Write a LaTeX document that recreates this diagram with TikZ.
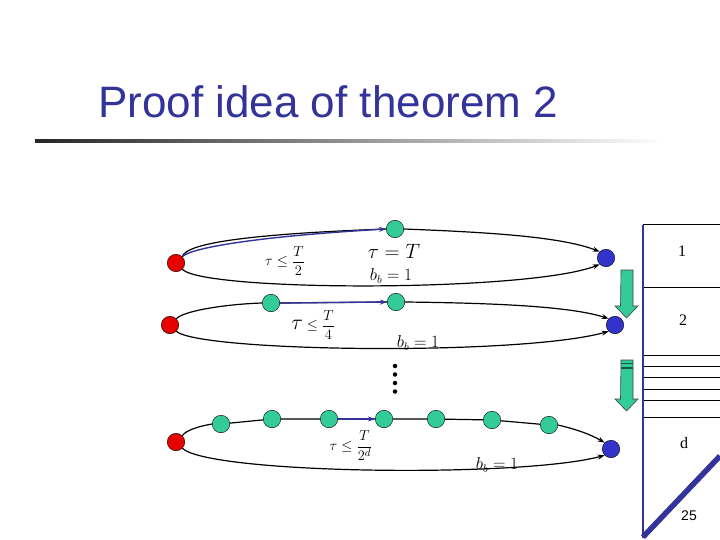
\documentclass[tikz,border=0pt]{standalone}
\usepackage{amsmath}
\usepackage{fontspec}
\setsansfont{Liberation Sans}
\newfontfamily\titlefont{Liberation Sans}
\newfontfamily\timesfont{Liberation Serif}
\usetikzlibrary{arrows.meta}
\definecolor{dotred}{RGB}{230,0,0}
\definecolor{dotgreen}{RGB}{51,204,153}
\definecolor{dotblue}{RGB}{51,51,204}
\definecolor{navy}{RGB}{51,51,153}
\definecolor{darkgreen}{RGB}{20,90,60}
\tikzset{
  dotbase/.style={circle, draw=black, line width=0.4pt, minimum size=17.5pt, inner sep=0pt},
  reddot/.style={dotbase, fill=dotred},
  greendot/.style={dotbase, fill=dotgreen},
  bluedot/.style={dotbase, fill=dotblue},
  ringline/.style={line width=1.2pt, black},
  ringarrow/.style={ringline, -{Stealth[length=7pt,width=5pt]}},
  bluearrow/.style={line width=1.4pt, navy, -{Stealth[length=7pt,width=5pt]}},
  mathlbl/.style={inner sep=0pt, black},
  boxline/.style={black, line width=0.8pt},
  greenarrow/.style={fill=dotgreen, draw=black!75, line width=0.6pt},
  tinydot/.style={circle, fill=black, inner sep=0pt, minimum size=4.5pt}
}
\begin{document}
\begin{tikzpicture}[x=1pt,y=-1pt]
\useasboundingbox (0,0) rectangle (720,540);
% title
\node[anchor=base west, inner sep=0pt, text=navy] (title) at (98,118) {\titlefont\fontsize{44}{50}\selectfont Proof idea of theorem 2};
\shade[left color=black!85, right color=white] (35,139.5) rectangle (665,142.5);

% ---------- row 1 ----------
\node[reddot] (r1) at (176,263) {};
\node[greendot] (g1) at (395,229) {};
\node[bluedot] (b1) at (606,258) {};
\draw[ringline] (r1.north east) .. controls (186,243) and (250,234) .. (g1.west);
\draw[ringarrow] (g1.east) .. controls (480,232) and (560,236) .. (b1.north west);
\draw[ringarrow] (r1.south east) .. controls (205,292) and (530,292) .. (b1.south west);
\draw[bluearrow] (r1.north east) .. controls (192,247) and (265,236) .. (g1.west);
\node[mathlbl] (l1a) at (285,261) {\fontsize{15}{17}\selectfont$\tau\le\dfrac{T}{2}$};
\node[mathlbl] (l1b) at (394,251) {\fontsize{22}{24}\selectfont$\tau=T$};
\node[mathlbl] (l1c) at (391,276) {\fontsize{16}{18}\selectfont$b_b=1$};

% ---------- row 2 ----------
\node[reddot] (r2) at (170,325) {};
\node[greendot] (ga) at (271,303) {};
\node[greendot] (gb) at (396,302) {};
\node[bluedot] (b2) at (615,325) {};
\draw[ringline] (r2.north east) .. controls (185,310) and (230,304) .. (ga.west);
\draw[ringline] (ga.east) -- (gb.west);
\draw[ringarrow] (gb.east) .. controls (490,303) and (570,306) .. (b2.north west);
\draw[ringarrow] (r2.south east) .. controls (200,352) and (520,356) .. (b2.south west);
\draw[bluearrow] (ga.east) -- (gb.west);
\node[mathlbl] (l2a) at (313,325) {\fontsize{14}{16}\selectfont$\scalebox{1.5}{$\tau$}\le\dfrac{T}{4}$};
\node[mathlbl] (l2b) at (418,343) {\fontsize{16}{18}\selectfont$b_b=1$};

% ---------- vertical dots ----------
\node[tinydot] (v1) at (395,366) {};
\node[tinydot] (v2) at (395,374.5) {};
\node[tinydot] (v3) at (395,383) {};
\node[tinydot] (v4) at (395,391.5) {};

% ---------- row 3 ----------
\node[reddot] (r3) at (176,442) {};
\node[greendot] (h1) at (221,424) {};
\node[greendot] (h2) at (272,419) {};
\node[greendot] (h3) at (329,419) {};
\node[greendot] (h4) at (384,419) {};
\node[greendot] (h5) at (436,419) {};
\node[greendot] (h6) at (492,420) {};
\node[greendot] (h7) at (549,425) {};
\node[bluedot] (b3) at (611,449) {};
\draw[ringline] (r3.north east) .. controls (186,430) and (200,426) .. (h1.west);
\draw[ringline] (h1) -- (h2) -- (h3) -- (h4) -- (h5) -- (h6) -- (h7);
\draw[ringarrow] (h7.east) .. controls (575,429) and (590,434) .. (b3.north west);
\draw[ringarrow] (r3.south east) .. controls (210,474) and (520,478) .. (b3.south west);
\draw[bluearrow] (h3.east) -- (h4.west);
\node[mathlbl] (l3a) at (351,446) {\fontsize{15}{17}\selectfont$\tau\le\dfrac{T}{2^d}$};
\node[mathlbl] (l3b) at (497,465) {\fontsize{16}{18}\selectfont$b_b=1$};

% ---------- green arrows ----------
\draw[greenarrow] (621,270) -- (633,270) -- (633,306) -- (638,306) -- (626.5,318) -- (615,306) -- (620.5,306) -- cycle;
\draw[greenarrow] (621,360) -- (633,360) -- (633,399) -- (638,399) -- (626.5,411) -- (615,399) -- (620.5,399) -- cycle;
\draw[darkgreen, line width=1.2pt] (621,363.5) -- (633,363.5);
\draw[darkgreen, line width=1.4pt] (621,368) -- (633,368);

% ---------- right box ----------
\draw[boxline] (643,224) -- (720,224);
\draw[boxline] (643,287) -- (720,287);
\foreach \yy in {355,366,377,389,400,417} \draw[boxline] (643,\yy) -- (720,\yy);
\draw[navy, line width=2.4pt] (643,225) -- (643,538);
\draw[navy, line width=5.5pt] (643,537) -- (720,456);
\node[inner sep=0pt] (n1) at (682,251) {\timesfont\fontsize{16}{18}\selectfont 1};
\node[inner sep=0pt] (n2) at (683,320) {\timesfont\fontsize{16}{18}\selectfont 2};
\node[inner sep=0pt] (nd) at (684,443) {\timesfont\fontsize{16}{18}\selectfont d};
\node[inner sep=0pt] (n25) at (689,516) {\sffamily\fontsize{14}{16}\selectfont 25};
\end{tikzpicture}
\end{document}
